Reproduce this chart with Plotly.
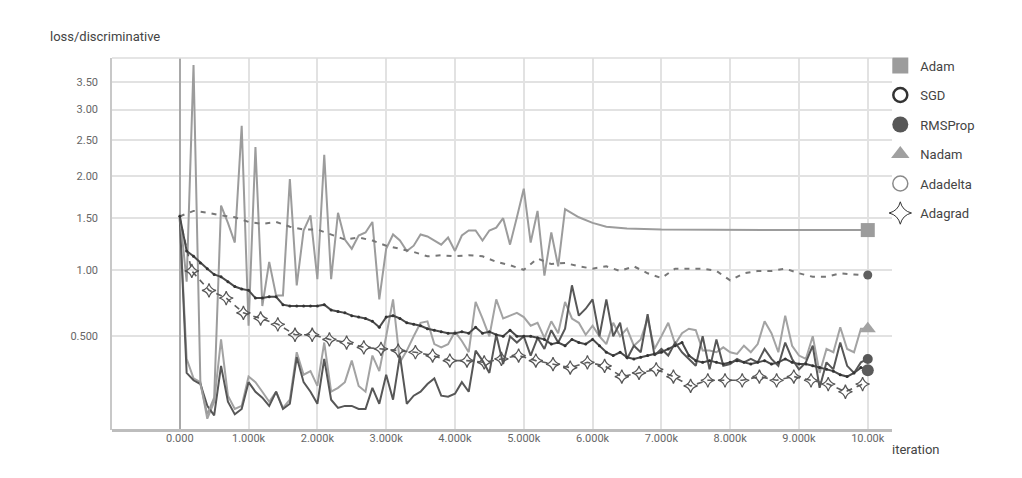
import numpy as np
import plotly.graph_objects as go

# ---------------- data ----------------
step100 = list(range(0, 10001, 100))

adam_x = list(range(0, 5601, 100)) + [5800, 6000, 6200, 6500, 7000, 8000, 9000, 10000]
adam_y = [1.55, 0.90, 3.85, 0.22, 0.07, 0.15, 1.64, 1.45, 1.25, 2.73,
          0.57, 2.40, 0.71, 1.07, 0.79, 0.79, 1.96, 0.87, 1.37, 1.53,
          0.92, 2.29, 0.92, 1.56, 1.28, 1.19, 1.32, 1.35, 1.46, 0.76,
          1.19, 1.33, 1.27, 1.17, 1.22, 1.33, 1.31, 1.27, 1.23, 1.30,
          1.17, 1.32, 1.37, 1.37, 1.27, 1.37, 1.40, 1.50, 1.23, 1.51,
          1.84, 1.25, 1.58, 0.95, 1.35, 1.03, 1.60,
          1.51, 1.45, 1.41, 1.39, 1.38, 1.375, 1.375, 1.375]

nadam_y = [1.50, 0.36, 0.25, 0.23, 0.05, 0.13, 0.48, 0.16, 0.095, 0.11,
           0.26, 0.23, 0.18, 0.13, 0.18, 0.10, 0.14, 0.40, 0.27, 0.29,
           0.21, 0.46, 0.18, 0.20, 0.23, 0.35, 0.21, 0.18, 0.38, 0.29,
           0.50, 0.76, 0.34, 0.41, 0.50, 0.59, 0.60, 0.45, 0.43, 0.45,
           0.53, 0.47, 0.40, 0.74, 0.62, 0.50, 0.76, 0.62, 0.64, 0.66,
           0.63, 0.57, 0.59, 0.49, 0.60, 0.52, 0.74, 0.62, 0.59, 0.51,
           0.57, 0.50, 0.45, 0.59, 0.50, 0.55, 0.44, 0.48, 0.62, 0.42,
           0.50, 0.59, 0.45, 0.52, 0.55, 0.54, 0.41, 0.41, 0.40, 0.43,
           0.40, 0.39, 0.44, 0.40, 0.45, 0.60, 0.52, 0.40, 0.64, 0.44,
           0.38, 0.36, 0.50, 0.28, 0.42, 0.40, 0.56, 0.42, 0.40, 0.55, 0.55]

rmsprop_y = [1.50, 0.28, 0.24, 0.22, 0.11, 0.065, 0.32, 0.13, 0.07, 0.095,
             0.23, 0.18, 0.15, 0.11, 0.18, 0.095, 0.12, 0.37, 0.23, 0.18,
             0.12, 0.36, 0.14, 0.10, 0.11, 0.11, 0.095, 0.095, 0.20, 0.12,
             0.27, 0.14, 0.38, 0.12, 0.16, 0.18, 0.22, 0.25, 0.16, 0.155,
             0.17, 0.23, 0.18, 0.41, 0.35, 0.28, 0.51, 0.33, 0.50, 0.46,
             0.50, 0.38, 0.49, 0.42, 0.54, 0.46, 0.55, 0.87, 0.64, 0.69,
             0.76, 0.50, 0.76, 0.50, 0.59, 0.36, 0.44, 0.40, 0.65, 0.38,
             0.42, 0.38, 0.46, 0.40, 0.36, 0.32, 0.50, 0.30, 0.48, 0.32,
             0.33, 0.36, 0.34, 0.36, 0.34, 0.42, 0.36, 0.32, 0.46, 0.36,
             0.30, 0.34, 0.44, 0.20, 0.34, 0.30, 0.46, 0.32, 0.28, 0.34, 0.36]

sgd_y = [1.52, 1.17, 1.12, 1.06, 1.01, 0.96, 0.94, 0.90, 0.86, 0.84,
         0.83, 0.77, 0.77, 0.78, 0.78, 0.72, 0.71, 0.71, 0.71, 0.71,
         0.71, 0.72, 0.68, 0.67, 0.66, 0.64, 0.63, 0.62, 0.60, 0.56,
         0.63, 0.64, 0.62, 0.59, 0.58, 0.57, 0.55, 0.54, 0.53, 0.52,
         0.52, 0.53, 0.52, 0.56, 0.52, 0.53, 0.51, 0.50, 0.54, 0.50,
         0.50, 0.50, 0.49, 0.48, 0.45, 0.46, 0.44, 0.48, 0.46, 0.45,
         0.48, 0.44, 0.40, 0.38, 0.40, 0.37, 0.36, 0.37, 0.38, 0.39,
         0.40, 0.42, 0.44, 0.46, 0.38, 0.35, 0.34, 0.35, 0.34, 0.33,
         0.34, 0.35, 0.34, 0.33, 0.34, 0.35, 0.33, 0.34, 0.36, 0.34,
         0.33, 0.33, 0.32, 0.31, 0.30, 0.29, 0.27, 0.26, 0.28, 0.31, 0.30]

adadelta_x = list(range(0, 10001, 200))
adadelta_y = [1.52, 1.58, 1.56, 1.53, 1.51, 1.46, 1.44, 1.46, 1.41, 1.38,
              1.38, 1.33, 1.28, 1.30, 1.27, 1.22, 1.19, 1.16, 1.12, 1.13,
              1.12, 1.13, 1.12, 1.07, 1.04, 1.00, 1.10, 1.05, 1.06, 1.03,
              1.01, 1.03, 0.99, 1.03, 0.97, 0.93, 1.01, 1.01, 1.01, 0.99,
              0.91, 0.97, 0.99, 0.99, 1.01, 0.97, 0.94, 0.94, 0.97, 0.96, 0.95]

adagrad_x = [0] + list(range(175, 10000, 250))
adagrad_y = [1.50, 0.99, 0.83, 0.77, 0.66, 0.62, 0.58, 0.51, 0.51, 0.48, 0.46,
             0.43, 0.42, 0.41, 0.40, 0.38, 0.35, 0.35, 0.34, 0.36, 0.38,
             0.35, 0.33, 0.31, 0.34, 0.32, 0.26, 0.28, 0.30, 0.26, 0.21,
             0.24, 0.24, 0.24, 0.26, 0.24, 0.26, 0.24, 0.22, 0.18, 0.22]

end_x = 10000
end_vals = {"Adam": 1.375, "Adadelta": 0.955, "Nadam": 0.55, "RMSProp": 0.36, "SGD": 0.295}

y_ticks = [0.5, 1.0, 1.5, 2.0, 2.5, 3.0, 3.5]
y_ticklabels = ["0.500", "1.00", "1.50", "2.00", "2.50", "3.00", "3.50"]
x_ticks = list(range(0, 10001, 1000))
x_ticklabels = ["0.000", "1.000k", "2.000k", "3.000k", "4.000k", "5.000k",
                "6.000k", "7.000k", "8.000k", "9.000k", "10.00k"]

# ---------------- scale: y axis is log10(1 + value) ----------------
def ys(v):
    return list(np.log10(1.0 + np.asarray(v, dtype=float)))

LIGHT = "#9c9c9c"
DARK = "#575757"
MID = "#777777"

fig = go.Figure()

# lines
fig.add_trace(go.Scatter(x=step100, y=ys(nadam_y), mode="lines",
                         line=dict(color="#a3a3a3", width=2), showlegend=False))
fig.add_trace(go.Scatter(x=step100, y=ys(rmsprop_y), mode="lines",
                         line=dict(color=DARK, width=2), showlegend=False))
fig.add_trace(go.Scatter(x=adam_x, y=ys(adam_y), mode="lines",
                         line=dict(color=LIGHT, width=2), showlegend=False))
fig.add_trace(go.Scatter(x=adadelta_x, y=ys(adadelta_y), mode="lines",
                         line=dict(color=MID, width=2, dash="5px,6px"), showlegend=False))
fig.add_trace(go.Scatter(x=adagrad_x, y=ys(adagrad_y), mode="lines",
                         line=dict(color="#5e5e5e", width=1.6, dash="6px,5px"), showlegend=False))
fig.add_trace(go.Scatter(x=adagrad_x[1:], y=ys(adagrad_y[1:]), mode="markers",
                         marker=dict(symbol="star-diamond-open", size=10, color="#555555",
                                     line=dict(width=1.2, color="#555555")),
                         showlegend=False))
fig.add_trace(go.Scatter(x=step100, y=ys(sgd_y), mode="lines+markers",
                         line=dict(color="#4a4a4a", width=2),
                         marker=dict(size=3, color="#333333"), showlegend=False))

# end markers
fig.add_trace(go.Scatter(x=[end_x], y=ys([end_vals["Adam"]]), mode="markers",
                         marker=dict(symbol="square", size=14, color=LIGHT), showlegend=False))
fig.add_trace(go.Scatter(x=[end_x], y=ys([end_vals["Adadelta"]]), mode="markers",
                         marker=dict(symbol="circle", size=9, color="#5f5f5f"), showlegend=False))
fig.add_trace(go.Scatter(x=[end_x], y=ys([end_vals["Nadam"]]), mode="markers",
                         marker=dict(symbol="triangle-up", size=14, color="#a3a3a3"), showlegend=False))
fig.add_trace(go.Scatter(x=[end_x], y=ys([end_vals["RMSProp"]]), mode="markers",
                         marker=dict(symbol="circle", size=10, color=DARK), showlegend=False))
fig.add_trace(go.Scatter(x=[end_x], y=ys([end_vals["SGD"]]), mode="markers",
                         marker=dict(symbol="circle", size=12, color="#5a5a5a"), showlegend=False))

# legend-only entries
legend_items = [
    ("Adam", dict(symbol="square", size=16, color=LIGHT)),
    ("SGD", dict(symbol="circle-open", size=14, color="#333333", line=dict(width=2.5, color="#333333"))),
    ("RMSProp", dict(symbol="circle", size=16, color=DARK)),
    ("Nadam", dict(symbol="triangle-up", size=16, color="#a0a0a0")),
    ("Adadelta", dict(symbol="circle-open", size=15, color="#8a8a8a", line=dict(width=1.5, color="#8a8a8a"))),
    ("Adagrad", dict(symbol="star-diamond-open", size=16, color="#333333", line=dict(width=1, color="#333333"))),
]
for i, (name, mk) in enumerate(legend_items):
    fig.add_trace(go.Scatter(x=[None], y=[None], mode="markers", name=name,
                             marker=mk, legendgroup=f"g{i}", showlegend=True))

fig.update_layout(
    width=1022, height=478,
    margin=dict(l=112, r=130, t=58, b=48),
    paper_bgcolor="white", plot_bgcolor="white",
    font=dict(family="Roboto, Arial, sans-serif", color="#555555", size=11),
    showlegend=True,
    legend=dict(x=0.985, xanchor="left", y=1.02, yanchor="top",
                font=dict(size=13, color="#444444"), tracegroupgap=9.6,
                bgcolor="rgba(0,0,0,0)", itemclick=False),
    annotations=[
        dict(text="loss/discriminative", x=-0.082, xref="paper", xanchor="left",
             y=1.058, yref="paper", yanchor="middle", showarrow=False,
             font=dict(size=13, color="#444444")),
        dict(text="iteration", x=0.998, xref="paper", xanchor="left",
             y=-0.052, yref="paper", yanchor="middle", showarrow=False,
             font=dict(size=13, color="#444444")),
    ],
    shapes=[
        dict(type="line", xref="paper", yref="paper", x0=0, x1=1, y0=1, y1=1,
             line=dict(color="#dddddd", width=1.5)),
    ],
)

fig.update_xaxes(range=[-985, 10352], tickvals=x_ticks, ticktext=x_ticklabels,
                 showgrid=True, gridcolor="#e2e2e2", gridwidth=1.5,
                 zeroline=True, zerolinecolor="#a8a8a8", zerolinewidth=2,
                 showline=False, ticks="", tickfont=dict(size=11, color="#666666"))
fig.update_yaxes(range=[0, float(np.log10(5.0))], tickvals=ys(y_ticks), ticktext=y_ticklabels,
                 showgrid=True, gridcolor="#e2e2e2", gridwidth=1.5,
                 zeroline=True, zerolinecolor="#bdbdbd", zerolinewidth=3,
                 showline=True, linecolor="#c8c8c8", linewidth=1.5,
                 ticks="", ticklabelstandoff=10, tickfont=dict(size=11, color="#666666"))

fig.write_html("out.html")
